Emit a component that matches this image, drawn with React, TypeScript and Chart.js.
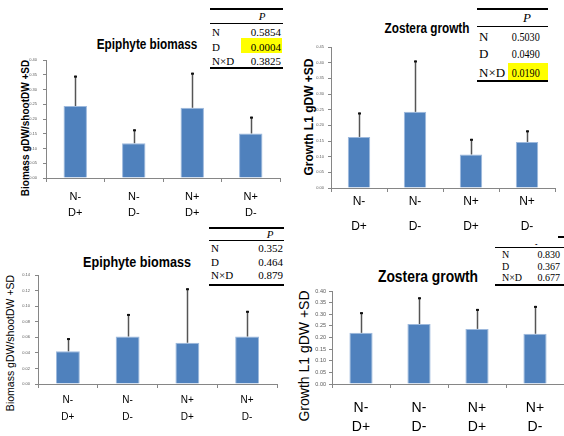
import React, { useEffect, useRef } from 'react';
import { Chart, registerables } from 'chart.js';
Chart.register(...registerables);

// ---------- data ----------
const categories = [['N-', 'D+'], ['N-', 'D-'], ['N+', 'D+'], ['N+', 'D-']];

const epiTopMeans = [0.244, 0.118, 0.238, 0.151];
const epiTopSD = [0.103, 0.047, 0.119, 0.057];
const zosTopMeans = [0.163, 0.243, 0.107, 0.147];
const zosTopSD = [0.078, 0.164, 0.05, 0.037];
const epiBotMeans = [0.042, 0.061, 0.053, 0.061];
const epiBotSD = [0.017, 0.029, 0.07, 0.033];
const zosBotMeans = [0.22, 0.258, 0.237, 0.216];
const zosBotSD = [0.089, 0.115, 0.086, 0.12];

const pLabels = ['N', 'D', 'N×D'];
const pEpiTop = ['0.5854', '0.0004', '0.3825'];
const pZosTop = ['0.5030', '0.0490', '0.0190'];
const pEpiBot = ['0.352', '0.464', '0.879'];
const pZosBot = ['0.830', '0.367', '0.677'];

const titleEpi = 'Epiphyte biomass';
const titleZos = 'Zostera growth';
const yLabelEpi = 'Biomass gDW/shootDW +SD';
const yLabelZos = 'Growth L1 gDW +SD';

// ---------- fonts ----------
const SANS = "'Liberation Sans', Arial, sans-serif";
const SERIF = "'Liberation Serif', 'Times New Roman', serif";

const errorBars = {
  id: 'errorBars',
  afterDatasetsDraw(chart: any, _args: any, opts: any) {
    const sd: number[] = opts.sd || [];
    const meta = chart.getDatasetMeta(0);
    const y = chart.scales.y;
    const ctx = chart.ctx;
    const vals = chart.data.datasets[0].data as number[];
    ctx.save();
    meta.data.forEach((bar: any, i: number) => {
      const v = vals[i];
      const yTop = y.getPixelForValue(v + sd[i]);
      const yBase = y.getPixelForValue(v);
      const x = Math.round(bar.x) + 0.5;
      ctx.strokeStyle = '#555555';
      ctx.lineWidth = 1.5;
      ctx.beginPath();
      ctx.moveTo(x, yBase);
      ctx.lineTo(x, yTop);
      ctx.stroke();
      ctx.strokeStyle = '#111111';
      ctx.lineWidth = 2;
      ctx.beginPath();
      ctx.moveTo(x - 1.5, yTop + 1);
      ctx.lineTo(x + 1.5, yTop + 1);
      ctx.stroke();
    });
    ctx.restore();
  },
};

type PanelCfg = {
  cx: number; cy: number; w: number; h: number;
  left: number; right: number; top: number; bottom: number;
  means: number[]; sd: number[]; max: number; step: number;
  tickSize: number; yPad: number;
  catSize: number; catLH: number; xPad: number;
};

function buildConfig(p: PanelCfg): any {
  return {
    type: 'bar',
    data: {
      labels: categories,
      datasets: [{
        data: p.means,
        backgroundColor: '#4F81BD',
        borderColor: '#9DB9DD',
        borderWidth: 1,
        barPercentage: 0.4,
        categoryPercentage: 1,
      }],
    },
    plugins: [errorBars],
    options: {
      animation: false,
      responsive: false,
      maintainAspectRatio: false,
      layout: { padding: { left: 0, top: p.top - p.cy, right: p.cx + p.w - p.right, bottom: 0 } },
      plugins: {
        legend: { display: false },
        tooltip: { enabled: false },
        title: { display: false },
        errorBars: { sd: p.sd },
      },
      scales: {
        x: {
          grid: { display: true, drawOnChartArea: false, drawTicks: true, tickLength: 4, color: '#868686', offset: true },
          border: { display: true, color: '#868686' },
          ticks: {
            color: '#000',
            font: { family: SANS, size: p.catSize, lineHeight: p.catLH + 'px' },
            padding: p.xPad,
            maxRotation: 0,
            autoSkip: false,
          },
          afterFit: (s: any) => { s.height = p.cy + p.h - p.bottom; },
        },
        y: {
          min: 0,
          max: p.max,
          grid: { display: true, drawOnChartArea: false, drawTicks: true, tickLength: 3, color: '#868686' },
          border: { display: true, color: '#868686' },
          ticks: {
            stepSize: p.step,
            color: '#595959',
            font: { family: SANS, size: p.tickSize },
            padding: p.yPad,
            callback: (v: any) => Number(v).toFixed(2),
          },
          afterFit: (s: any) => { s.width = p.left - p.cx; },
        },
      },
    },
  };
}

const panels: PanelCfg[] = [
  { cx: 0, cy: 40, w: 290, h: 195, left: 46, right: 280, top: 60, bottom: 178,
    means: epiTopMeans, sd: epiTopSD, max: 0.4, step: 0.05, tickSize: 4, yPad: 6,
    catSize: 11, catLH: 16, xPad: 7 },
  { cx: 290, cy: 30, w: 274, h: 205, left: 331, right: 555, top: 47, bottom: 188,
    means: zosTopMeans, sd: zosTopSD, max: 0.45, step: 0.05, tickSize: 4, yPad: 4,
    catSize: 12, catLH: 25, xPad: -2.5 },
  { cx: 0, cy: 240, w: 290, h: 196, left: 38, right: 277, top: 275, bottom: 384,
    means: epiBotMeans, sd: epiBotSD, max: 0.14, step: 0.02, tickSize: 4, yPad: 5,
    catSize: 10, catLH: 17, xPad: 3.5 },
  { cx: 290, cy: 250, w: 274, h: 186, left: 332, right: 564, top: 291, bottom: 384,
    means: zosBotMeans, sd: zosBotSD, max: 0.4, step: 0.05, tickSize: 5.5, yPad: 3,
    catSize: 14, catLH: 19.5, xPad: 10 },
];

function BarPanel({ p }: { p: PanelCfg }) {
  const ref = useRef<HTMLCanvasElement | null>(null);
  useEffect(() => {
    const chart = new Chart(ref.current as HTMLCanvasElement, buildConfig(p));
    return () => chart.destroy();
  }, []);
  return (
    <canvas
      ref={ref}
      width={p.w}
      height={p.h}
      style={{ position: 'absolute', left: p.cx, top: p.cy, width: p.w, height: p.h }}
    />
  );
}

function CenterText({ x, y, text, size, bold, rotate, sx }: any) {
  return (
    <div
      style={{
        position: 'absolute', left: x, top: y, whiteSpace: 'nowrap', lineHeight: 1,
        fontFamily: SANS, fontSize: size, fontWeight: bold ? 'bold' : 'normal', color: '#000',
        transform: `translate(-50%, -50%)${rotate ? ' rotate(-90deg)' : ''}${sx ? ` scaleX(${sx})` : ''}`,
      }}
    >
      {text}
    </div>
  );
}

type TableCfg = {
  left: number; right: number; topY: number; topLeft?: number; midY: number; bottomY: number;
  pX: number; pY: number; clipP?: boolean; rowYs: number[]; labelX: number; valueRight: number;
  size: number; values: string[]; hl?: { x1: number; x2: number; y1: number; y2: number }; valScale?: number;
};

function Line({ x1, x2, y, h }: any) {
  return <div style={{ position: 'absolute', left: x1, top: y, width: x2 - x1, height: h, background: '#000' }} />;
}

function PTable({ t }: { t: TableCfg }) {
  const base: any = { position: 'absolute', whiteSpace: 'nowrap', lineHeight: 1, fontFamily: SERIF, fontSize: t.size, color: '#000' };
  return (
    <>
      {t.hl && (
        <div style={{ position: 'absolute', left: t.hl.x1, top: t.hl.y1, width: t.hl.x2 - t.hl.x1, height: t.hl.y2 - t.hl.y1, background: '#FFFF00' }} />
      )}
      <Line x1={t.topLeft ?? t.left} x2={t.right} y={t.topY} h={2} />
      <Line x1={t.left} x2={t.right} y={t.midY} h={1} />
      <Line x1={t.left} x2={t.right} y={t.bottomY} h={2} />
      {t.clipP ? (
        <div style={{ position: 'absolute', left: t.pX - 10, top: t.midY - 3, width: 20, height: 3, overflow: 'hidden' }}>
          <div style={{ ...base, left: 10, top: t.pY - (t.midY - 3), transform: 'translate(-50%, -50%)', fontStyle: 'italic' }}>P</div>
        </div>
      ) : (
        <div style={{ ...base, left: t.pX, top: t.pY, transform: 'translate(-50%, -50%)', fontStyle: 'italic' }}>P</div>
      )}
      {pLabels.map((lab, i) => (
        <div key={'l' + i} style={{ ...base, left: t.labelX, top: t.rowYs[i], transform: 'translateY(-50%)' }}>{lab}</div>
      ))}
      {t.values.map((v, i) => (
        <div
          key={'v' + i}
          style={{
            ...base, right: 564 - t.valueRight, top: t.rowYs[i],
            transform: `translateY(-50%)${t.valScale ? ` scaleX(${t.valScale})` : ''}`, transformOrigin: 'right center',
          }}
        >
          {v}
        </div>
      ))}
    </>
  );
}

const tables: TableCfg[] = [
  { left: 210, right: 283, topY: 8, midY: 23, bottomY: 67, pX: 262, pY: 16, rowYs: [32, 47, 61],
    labelX: 212, valueRight: 281, size: 11, values: pEpiTop, hl: { x1: 241, x2: 282, y1: 38, y2: 53 } },
  { left: 477, right: 548, topY: 8, midY: 26, bottomY: 80, pX: 527, pY: 17, rowYs: [36, 53, 72],
    labelX: 479, valueRight: 540, size: 13, values: pZosTop, valScale: 0.78, hl: { x1: 508, x2: 548, y1: 63, y2: 80 } },
  { left: 209, right: 284, topY: 227, midY: 240, bottomY: 284, pX: 270, pY: 234, rowYs: [248, 262, 275],
    labelX: 211, valueRight: 283, size: 11, values: pEpiBot },
  { left: 495, right: 564, topY: 236, topLeft: 558, midY: 247, bottomY: 284, pX: 538, pY: 242, clipP: true,
    rowYs: [255, 267, 278], labelX: 502, valueRight: 560, size: 10, values: pZosBot },
];

export default function App() {
  return (
    <div style={{ position: 'fixed', left: 0, top: 0, width: 564, height: 436, background: '#fff', overflow: 'hidden' }}>
      {tables.map((t, i) => <PTable key={i} t={t} />)}
      <CenterText x={147} y={44} text={titleEpi} size={14} bold sx={0.84} />
      <CenterText x={427} y={28} text={titleZos} size={14} bold sx={0.84} />
      <CenterText x={137} y={261} text={titleEpi} size={15} bold sx={0.84} />
      <CenterText x={428} y={276} text={titleZos} size={16.5} bold sx={0.84} />
      <CenterText x={26} y={128} text={yLabelEpi} size={10} bold rotate />
      <CenterText x={309} y={117} text={yLabelZos} size={12} bold rotate />
      <CenterText x={10} y={343} text={yLabelEpi} size={10.5} rotate />
      <CenterText x={304} y={356} text={yLabelZos} size={14} rotate />
      {panels.map((p, i) => <BarPanel key={i} p={p} />)}
    </div>
  );
}
